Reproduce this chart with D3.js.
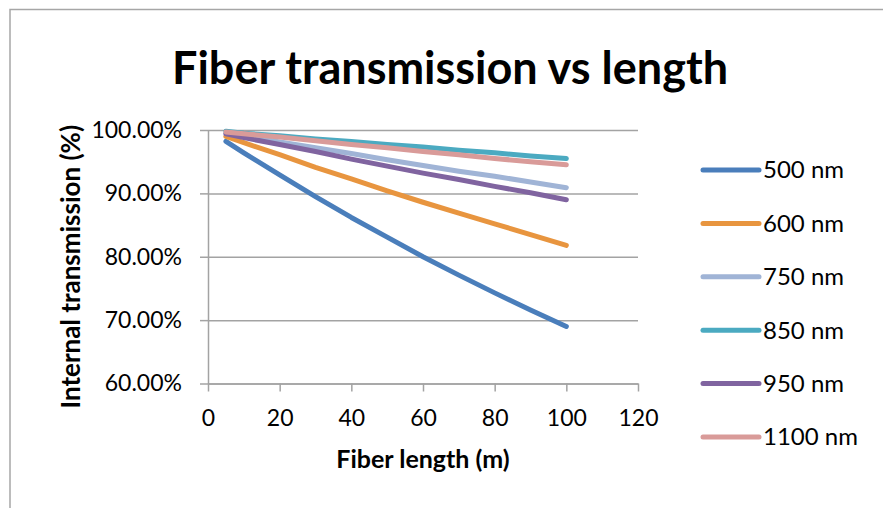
<!DOCTYPE html>
<html>
<head>
<meta charset="utf-8">
<script src="https://cdn.jsdelivr.net/npm/d3@7"></script>
<style>
  html, body { margin: 0; background: #fff; overflow: hidden; }
  svg { display: block; }
  svg text { font-family: Lato, "Open Sans", sans-serif; fill: #000; }
  .grid line { stroke: #a3a3a3; stroke-width: 1.5; }
  .grid path { display: none; }
  .axis path, .axis line { stroke: #a3a3a3; stroke-width: 1.5; }
</style>
</head>
<body>
<svg id="chart"></svg>
<script>
// data
const lengths = [5, 10, 20, 30, 40, 50, 60, 70, 80, 90, 100];
const names = ['500 nm', '600 nm', '750 nm', '850 nm', '950 nm', '1100 nm'];
const t500 = [98.2, 96.4, 92.9, 89.5, 86.2, 83.1, 80.0, 77.1, 74.3, 71.6, 69.0];
const t600 = [99.0, 98.0, 96.1, 94.1, 92.3, 90.4, 88.6, 86.9, 85.2, 83.5, 81.8];
const t750 = [99.5, 99.1, 98.1, 97.2, 96.3, 95.3, 94.4, 93.5, 92.7, 91.8, 90.9];
const t850 = [99.8, 99.5, 99.1, 98.6, 98.2, 97.7, 97.3, 96.8, 96.4, 95.9, 95.5];
const t950 = [99.4, 98.8, 97.7, 96.6, 95.4, 94.3, 93.2, 92.2, 91.1, 90.1, 89.0];
const t1100 = [99.7, 99.4, 98.9, 98.3, 97.7, 97.2, 96.6, 96.1, 95.5, 95.0, 94.5];
const colors = ['#4a7ebb', '#e8953f', '#a0b4d6', '#4baac1', '#8064a0', '#d99b99'];
const xTicks = [0, 20, 40, 60, 80, 100, 120];
const yTicks = [60, 70, 80, 90, 100];

const series = [t500, t600, t750, t850, t950, t1100];

const W = 883, H = 508;
const margin = { top: 130, left: 208 };
const width = 430, height = 253.5;

const root = d3.select('#chart').attr('width', W).attr('height', H);

// chart border: only the left and top edges are in view
root.append('path')
  .attr('d', `M10,${H} V9.5 H${W}`)
  .attr('fill', 'none').attr('stroke', '#a6a6a6').attr('stroke-width', 1.5);

// title
root.append('text')
  .attr('x', 450).attr('y', 84)
  .attr('text-anchor', 'middle')
  .style('font-size', '45px').style('font-weight', 'bold')
  .text('Fiber transmission vs length');

const svg = root.append('g').attr('transform', `translate(${margin.left},${margin.top})`);

const x = d3.scaleLinear().domain([0, 120]).range([0, width]);
const y = d3.scaleLinear().domain([60, 100]).range([height, 0]);

// gridlines
svg.append('g').attr('class', 'grid')
  .call(d3.axisLeft(y).tickValues(yTicks).tickSize(-width).tickFormat(''));

// axes
svg.append('g').attr('class', 'axis')
  .call(d3.axisLeft(y).tickValues(yTicks).tickSize(8).tickSizeOuter(0).tickPadding(18)
    .tickFormat(d => d.toFixed(2) + '%'))
  .selectAll('text').style('font-size', '23px');

svg.append('g').attr('class', 'axis')
  .attr('transform', `translate(0,${height})`)
  .call(d3.axisBottom(x).tickValues(xTicks).tickSize(8).tickSizeOuter(0).tickPadding(18))
  .selectAll('text').style('font-size', '23px');

svg.selectAll('.axis text').attr('font-family', null);

// axis titles
svg.append('text')
  .attr('x', width / 2).attr('y', height + 84)
  .attr('text-anchor', 'middle')
  .style('font-size', '25px').style('font-weight', 'bold')
  .text('Fiber length (m)');

svg.append('text')
  .attr('transform', 'rotate(-90)')
  .attr('x', -height / 2 - 10).attr('y', -128)
  .attr('text-anchor', 'middle')
  .style('font-size', '26px').style('font-weight', 'bold')
  .text('Internal transmission (%)');

// lines
const line = d3.line()
  .x((d, i) => x(lengths[i]))
  .y(d => y(d));

svg.selectAll('.series')
  .data(series)
  .enter()
  .append('path')
  .attr('class', 'series')
  .attr('d', line)
  .attr('fill', 'none')
  .attr('stroke', (d, i) => colors[i])
  .attr('stroke-width', 5)
  .attr('stroke-linecap', 'round')
  .attr('stroke-linejoin', 'round');

// legend
const legend = root.append('g').attr('transform', 'translate(703,170)');
const items = legend.selectAll('g')
  .data(names)
  .enter()
  .append('g')
  .attr('transform', (d, i) => `translate(0,${i * 53.4})`);

items.append('line')
  .attr('x1', 0).attr('x2', 56)
  .attr('stroke', (d, i) => colors[i])
  .attr('stroke-width', 5)
  .attr('stroke-linecap', 'round');

items.append('text')
  .attr('x', 60).attr('dy', '0.35em')
  .style('font-size', '24px')
  .text(d => d);
</script>
</body>
</html>
